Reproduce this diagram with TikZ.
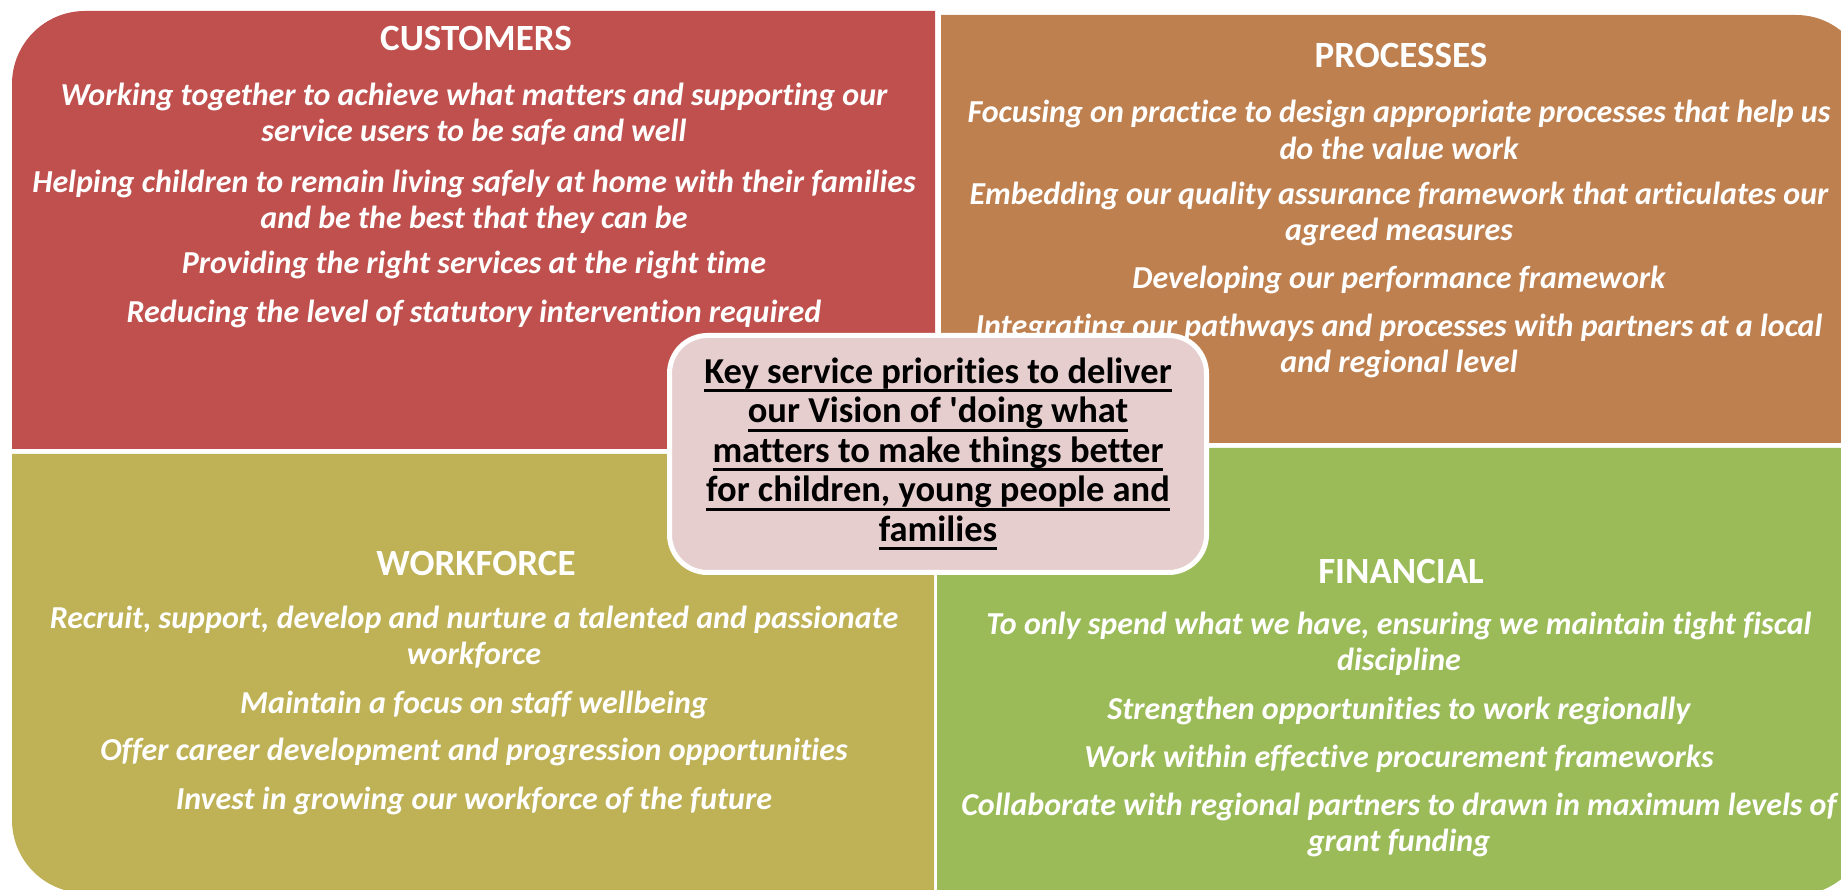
\documentclass[tikz,border=0pt]{standalone}
\usepackage{fontspec}
\setmainfont{Carlito}[Ligatures={NoCommon}]
\definecolor{cred}{HTML}{C0504D}
\definecolor{corange}{HTML}{BF8050}
\definecolor{colive}{HTML}{BEB156}
\definecolor{cgreen}{HTML}{9BBB59}
\definecolor{cpink}{HTML}{E6CDCE}
\newcommand\keyul[1]{\setbox0\hbox{#1}\rlap{\rule[-9pt]{\wd0}{2.8pt}}\box0}
\tikzset{
  paneltitle/.style={font=\fontsize{37}{44}\selectfont\bfseries, text=white, inner sep=0pt},
  paneltext/.style={font=\fontsize{32}{36.5}\selectfont\bfseries\itshape, text=white, align=center, inner sep=0pt},
  keybox/.style={fill=cpink, draw=white, line width=5pt, rounded corners=38pt},
  keytext/.style={font=\fontsize{36.5}{39.5}\selectfont\bfseries, text=black, align=center, inner sep=0pt}
}
\begin{document}
\begin{tikzpicture}[x=1pt,y=1pt]
\useasboundingbox (0,0) rectangle (1841,890);
\fill[white] (0,0) rectangle (1841,890);
\clip (0,0) rectangle (1841,890);
% panels
\fill[cred] (12,441) -- (12,806) arc[start angle=180,end angle=90,radius=73] -- (935,879) -- (935,441) -- cycle;
\fill[corange] (941,447) -- (941,875) -- (1796,875) arc[start angle=90,end angle=0,radius=72] -- (1868,447) -- cycle;
\fill[colive] (12,436) -- (12,70) arc[start angle=180,end angle=270,radius=73] -- (934,-3) -- (934,436) -- cycle;
\fill[cgreen] (937,442) -- (937,-5) -- (1796,-5) arc[start angle=270,end angle=360,radius=72] -- (1868,442) -- cycle;
% customers
\node[paneltitle] (custT) at (476,851) {CUSTOMERS};
\node[paneltext] (cust1) at (474,776) {Working together to achieve what matters and supporting our\\ service users to be safe and well};
\node[paneltext] (cust2) at (474,688) {Helping children to remain living safely at home with their families\\ and be the best that they can be};
\node[paneltext] (cust3) at (474,625) {Providing the right services at the right time};
\node[paneltext] (cust4) at (474,576) {Reducing the level of statutory intervention required};
% processes
\node[paneltitle] (procT) at (1401,834) {PROCESSES};
\node[paneltext] (proc1) at (1399,760) {Focusing on practice to design appropriate processes that help us\\ do the value work};
\node[paneltext] (proc2) at (1399,676) {Embedding our quality assurance framework that articulates our\\ agreed measures};
\node[paneltext] (proc3) at (1399,610) {Developing our performance framework};
\node[paneltext] (proc4) at (1399,544) {Integrating our pathways and processes with partners at a local\\ and regional level};
% workforce
\node[paneltitle] (workT) at (476,326) {WORKFORCE};
\node[paneltext] (work1) at (474,253) {Recruit, support, develop and nurture a talented and passionate\\ workforce};
\node[paneltext] (work2) at (474,185) {Maintain a focus on staff wellbeing};
\node[paneltext] (work3) at (474,138) {Offer career development and progression opportunities};
\node[paneltext] (work4) at (474,89) {Invest in growing our workforce of the future};
% financial
\node[paneltitle] (finT) at (1401,318) {FINANCIAL};
\node[paneltext] (fin1) at (1399,246) {To only spend what we have, ensuring we maintain tight fiscal\\ discipline};
\node[paneltext] (fin2) at (1399,179) {Strengthen opportunities to work regionally};
\node[paneltext] (fin3) at (1399,131) {Work within effective procurement frameworks};
\node[paneltext] (fin4) at (1399,65) {Collaborate with regional partners to drawn in maximum levels of\\ grant funding};
% centre
\draw[keybox] (669.5,317.5) rectangle (1206.5,554.5);
\node[keytext] (key) at (938,436) {\keyul{Key service priorities to deliver}\\ \keyul{our Vision of \textquotesingle doing what}\\ \keyul{matters to make things better}\\ \keyul{for children, young people and}\\ \keyul{families}};
\end{tikzpicture}
\end{document}
